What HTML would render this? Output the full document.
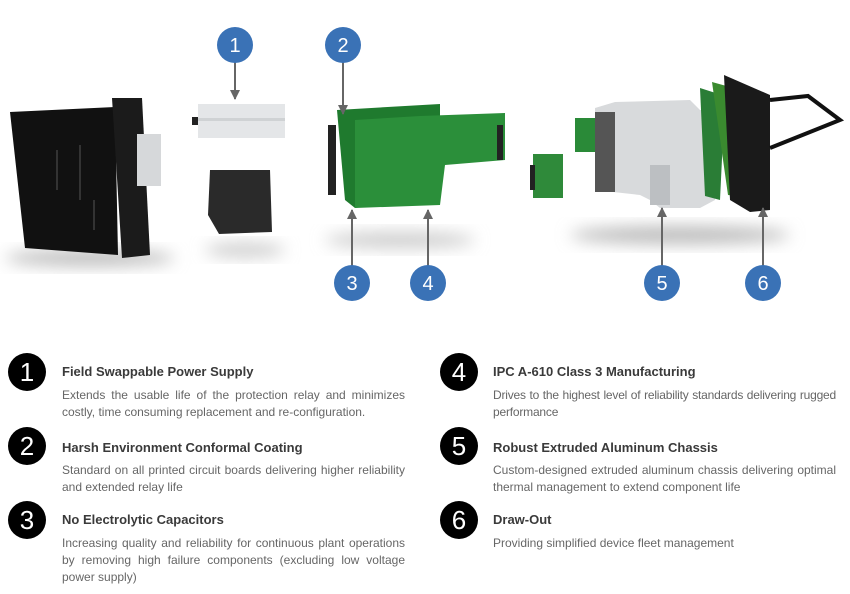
<!DOCTYPE html>
<html><head><meta charset="utf-8"><style>
body{margin:0;width:850px;height:594px;background:#fff;position:relative;overflow:hidden;font-family:"Liberation Sans",sans-serif}
svg{position:absolute;left:0;top:0}
.b{position:absolute;width:38px;height:38px;border-radius:50%;background:#000;color:#fff;font-size:26px;line-height:38px;text-align:center;font-weight:normal}
.t{position:absolute;font-size:13px;color:#3a3a3a;font-weight:bold}
.d{position:absolute;font-size:12px;color:#666;line-height:17px;text-align:justify;width:343px}
</style></head><body>
<svg width="850" height="330" viewBox="0 0 850 330">
<defs>
<filter id="bl" x="-50%" y="-50%" width="200%" height="200%"><feGaussianBlur stdDeviation="8"/></filter>
<marker id="ar" viewBox="0 0 10 10" refX="9" refY="5" markerWidth="5" markerHeight="5" orient="auto"><path d="M0,0 L10,5 L0,10 z" fill="#666"/></marker>
</defs>
<ellipse cx="90" cy="258" rx="85" ry="8" fill="#bbb" filter="url(#bl)"/>
<ellipse cx="245" cy="250" rx="40" ry="7" fill="#ccc" filter="url(#bl)"/>
<ellipse cx="400" cy="240" rx="75" ry="8" fill="#ccc" filter="url(#bl)"/>
<ellipse cx="680" cy="235" rx="110" ry="9" fill="#bbb" filter="url(#bl)"/>
<polygon points="10,112 115,107 118,255 25,248" fill="#111"/>
<polygon points="112,98 142,98 150,255 122,258" fill="#1b1b1b"/>
<rect x="137" y="134" width="24" height="52" fill="#d6d8da"/>
<g stroke="#555" stroke-width="1"><line x1="57" y1="150" x2="57" y2="190"/><line x1="80" y1="145" x2="80" y2="200"/><line x1="94" y1="200" x2="94" y2="230"/></g>
<rect x="198" y="104" width="87" height="34" fill="#e4e6e8"/>
<rect x="198" y="118" width="87" height="3" fill="#cfd2d4"/>
<rect x="192" y="117" width="6" height="8" fill="#222"/>
<polygon points="210,170 270,170 272,232 219,234 208,215" fill="#2a2a2a"/>
<rect x="328" y="125" width="8" height="70" fill="#222"/>
<polygon points="337,110 440,104 440,170 435,195 355,208 345,200" fill="#1f7a2e"/>
<polygon points="420,116 505,113 505,160 445,165 440,205 355,208 355,120" fill="#2b8f3a"/>
<rect x="497" y="125" width="6" height="35" fill="#222"/>
<rect x="533" y="154" width="30" height="44" fill="#2f8a3a"/>
<rect x="530" y="165" width="5" height="25" fill="#222"/>
<rect x="575" y="118" width="30" height="34" fill="#2a8a38"/>
<polygon points="595,108 615,102 690,100 700,110 715,112 715,200 700,208 660,208 650,200 640,195 595,190" fill="#d8dadc"/>
<rect x="595" y="112" width="20" height="80" fill="#555"/>
<rect x="650" y="165" width="20" height="40" fill="#bcbfc2"/>
<polygon points="700,88 725,96 720,200 705,196" fill="#2a7d36"/>
<polygon points="712,82 748,92 745,197 728,195" fill="#3a8a2f"/>
<polygon points="724,75 770,95 770,210 750,212 730,200" fill="#1a1a1a"/>
<polyline points="770,100 808,96 840,120 770,148" fill="none" stroke="#111" stroke-width="4"/>
<g stroke="#666" stroke-width="2" marker-end="url(#ar)">
<line x1="235" y1="62" x2="235" y2="99"/>
<line x1="343" y1="62" x2="343" y2="114"/>
<line x1="352" y1="266" x2="352" y2="210"/>
<line x1="428" y1="266" x2="428" y2="210"/>
<line x1="662" y1="266" x2="662" y2="208"/>
<line x1="763" y1="266" x2="763" y2="208"/>
</g>
<g fill="#3a72b6">
<circle cx="235" cy="45" r="18"/><circle cx="343" cy="45" r="18"/>
<circle cx="352" cy="283" r="18"/><circle cx="428" cy="283" r="18"/>
<circle cx="662" cy="283" r="18"/><circle cx="763" cy="283" r="18"/>
</g>
<g fill="#fff" font-family="Liberation Sans" font-size="20" text-anchor="middle">
<text x="235" y="52">1</text><text x="343" y="52">2</text>
<text x="352" y="290">3</text><text x="428" y="290">4</text>
<text x="662" y="290">5</text><text x="763" y="290">6</text>
</g>
</svg>

<div class="b" style="left:8px;top:353px">1</div>
<div class="t" style="left:62px;top:364px">Field Swappable Power Supply</div>
<div class="d" style="left:62px;top:387px">Extends the usable life of the protection relay and minimizes costly, time consuming replacement and re-configuration.</div>

<div class="b" style="left:8px;top:427px">2</div>
<div class="t" style="left:62px;top:440px">Harsh Environment Conformal Coating</div>
<div class="d" style="left:62px;top:462px">Standard on all printed circuit boards delivering higher reliability and extended relay life</div>

<div class="b" style="left:8px;top:501px">3</div>
<div class="t" style="left:62px;top:512px">No Electrolytic Capacitors</div>
<div class="d" style="left:62px;top:535px">Increasing quality and reliability for continuous plant operations by removing high failure components (excluding low voltage power supply)</div>

<div class="b" style="left:440px;top:353px">4</div>
<div class="t" style="left:493px;top:364px">IPC A-610 Class 3 Manufacturing</div>
<div class="d" style="left:493px;top:387px;letter-spacing:-0.2px">Drives to the highest level of reliability standards delivering rugged performance</div>

<div class="b" style="left:440px;top:427px">5</div>
<div class="t" style="left:493px;top:440px">Robust Extruded Aluminum Chassis</div>
<div class="d" style="left:493px;top:462px">Custom-designed extruded aluminum chassis delivering optimal thermal management to extend component life</div>

<div class="b" style="left:440px;top:501px">6</div>
<div class="t" style="left:493px;top:512px">Draw-Out</div>
<div class="d" style="left:493px;top:535px">Providing simplified device fleet management</div>
</body></html>
